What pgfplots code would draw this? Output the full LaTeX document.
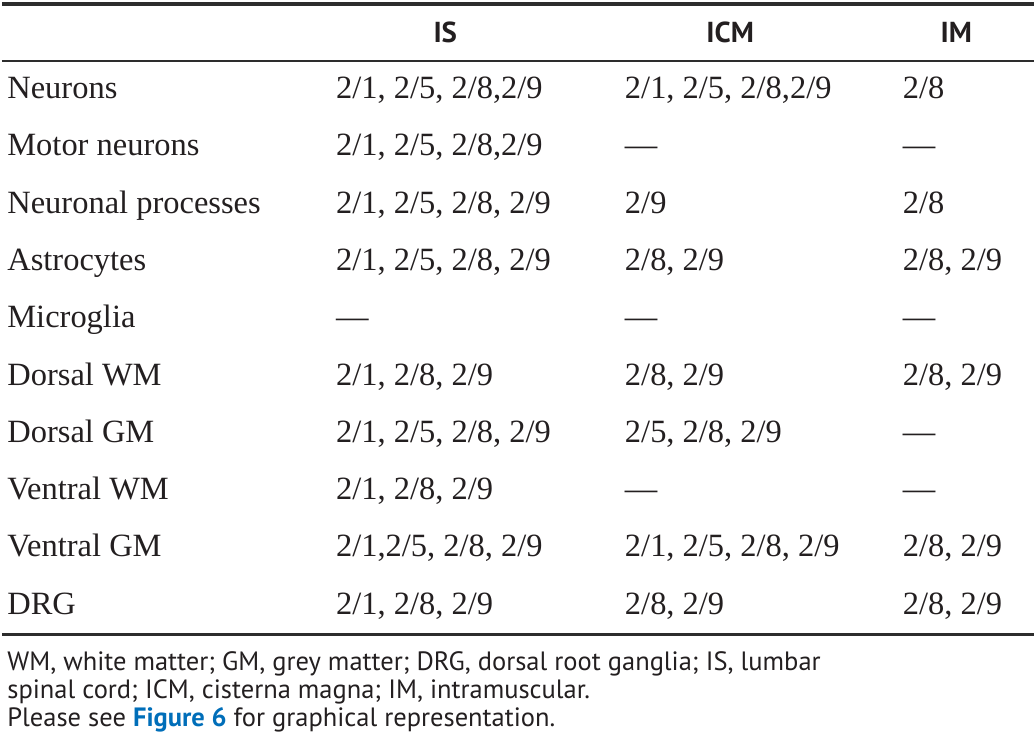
\documentclass[border=0pt]{standalone}
\usepackage{pgfplots}
\pgfplotsset{compat=1.18}
\usepackage{pgfplotstable}
\usepackage{fontspec}
\setmainfont{Liberation Serif}
\newfontfamily\ptsans{PT Sans}
\definecolor{txt}{RGB}{35,31,32}
\definecolor{rule}{RGB}{45,45,45}
\definecolor{figblue}{RGB}{0,110,185}

\pgfplotstableread[col sep=semicolon]{
x;y;label
5;99;Neurons
335;99;2/1, 2/5, 2/8,2/9
625;99;2/1, 2/5, 2/8,2/9
904;99;2/8
5;156.5;Motor neurons
335;156.5;2/1, 2/5, 2/8,2/9
625;156.5;—
904;156.5;—
5;214;Neuronal processes
335;214;2/1, 2/5, 2/8, 2/9
625;214;2/9
904;214;2/8
5;271.5;Astrocytes
335;271.5;2/1, 2/5, 2/8, 2/9
625;271.5;2/8, 2/9
904;271.5;2/8, 2/9
5;329;Microglia
335;329;—
625;329;—
904;329;—
5;386.5;Dorsal WM
335;386.5;2/1, 2/8, 2/9
625;386.5;2/8, 2/9
904;386.5;2/8, 2/9
5;444;Dorsal GM
335;444;2/1, 2/5, 2/8, 2/9
625;444;2/5, 2/8, 2/9
904;444;—
5;501.5;Ventral WM
335;501.5;2/1, 2/8, 2/9
625;501.5;—
904;501.5;—
5;559;Ventral GM
335;559;2/1,2/5, 2/8, 2/9
625;559;2/1, 2/5, 2/8, 2/9
904;559;2/8, 2/9
5;616.5;DRG
335;616.5;2/1, 2/8, 2/9
625;616.5;2/8, 2/9
904;616.5;2/8, 2/9
}\bodytable

\pgfplotstableread[col sep=semicolon]{
x;y;label
445;43;IS
731;43;ICM
958;43;IM
}\headtable

\begin{document}
\begin{tikzpicture}
\begin{axis}[
  scale only axis, width=518pt, height=377.5pt,
  xmin=0, xmax=1036, ymin=0, ymax=755, y dir=reverse,
  hide axis, clip=false,
]
% bounding frame (invisible)
\addplot[draw=none, forget plot] coordinates {(0,0) (1036,755)};
% rules
\addplot[rule, line width=2pt] coordinates {(0,4.5) (1036,4.5)};
\addplot[rule, line width=1.2pt] coordinates {(0,61) (1036,61)};
\addplot[rule, line width=1.4pt] coordinates {(0,637) (1036,637)};
% body cells
\addplot[only marks, mark=none, point meta=explicit symbolic,
  nodes near coords={\pgfplotspointmeta},
  nodes near coords style={anchor=base west, inner sep=0pt, text=txt, font=\fontsize{16.3}{19}\selectfont}]
  table[x=x, y=y, meta=label] {\bodytable};
% header cells
\addplot[only marks, mark=none, point meta=explicit symbolic,
  nodes near coords={\pgfplotspointmeta},
  nodes near coords style={anchor=base, inner sep=0pt, text=txt, font=\ptsans\bfseries\fontsize{14.5}{17}\selectfont}]
  table[x=x, y=y, meta=label] {\headtable};
% footnote
\node[anchor=base west, inner sep=0pt, text=txt, font=\ptsans\fontsize{13.3}{16}\selectfont] at (axis cs:5,673) {WM, white matter; GM, grey matter; DRG, dorsal root ganglia; IS, lumbar};
\node[anchor=base west, inner sep=0pt, text=txt, font=\ptsans\fontsize{13.3}{16}\selectfont] at (axis cs:5,701) {spinal cord; ICM, cisterna magna; IM, intramuscular.};
\node[anchor=base west, inner sep=0pt, text=txt, font=\ptsans\fontsize{13.3}{16}\selectfont] at (axis cs:5,729) {Please see \textcolor{figblue}{\bfseries Figure 6} for graphical representation.};
\end{axis}
\end{tikzpicture}
\end{document}
